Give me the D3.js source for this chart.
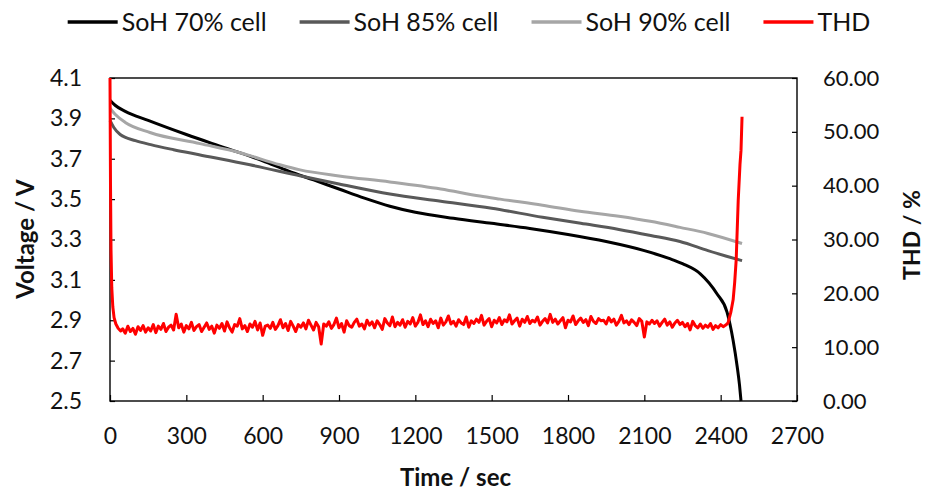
<!DOCTYPE html>
<html>
<head>
<meta charset="utf-8">
<script src="https://cdn.jsdelivr.net/npm/d3@7"></script>
<style>
  body { margin: 0; background: #fff; }
  text { font-family: Lato, "Open Sans", sans-serif; fill: #111; }
</style>
</head>
<body>
<svg id="chart" width="927" height="490"></svg>
<script>
// tick labels
let timeTicks = [0, 300, 600, 900, 1200, 1500, 1800, 2100, 2400, 2700]
let voltTicks = [2.5, 2.7, 2.9, 3.1, 3.3, 3.5, 3.7, 3.9, 4.1]
let thdTicks = [0, 10, 20, 30, 40, 50, 60]

// discharge curves, [time s, voltage V]
let soh70 = [[0,3.99],[20,3.965],[60,3.935],[150,3.89],[300,3.82],[450,3.755],[600,3.69],[700,3.64],
  [800,3.595],[900,3.55],[1000,3.505],[1100,3.465],[1200,3.435],[1350,3.405],[1500,3.38],[1650,3.355],
  [1800,3.325],[1950,3.29],[2100,3.245],[2200,3.205],[2250,3.18],[2320,3.13],[2386,3.03],[2425,2.94],
  [2449,2.80],[2465,2.67],[2474,2.58],[2480,2.50]]
let soh85 = [[0,3.89],[15,3.855],[40,3.82],[100,3.79],[160,3.77],[250,3.745],[350,3.72],[550,3.67],
  [750,3.615],[900,3.575],[1100,3.525],[1300,3.49],[1500,3.455],[1700,3.41],[1850,3.38],[2000,3.35],
  [2125,3.32],[2240,3.29],[2350,3.245],[2484,3.195]]
let soh90 = [[0,3.95],[20,3.92],[60,3.88],[157,3.83],[354,3.775],[511,3.73],[668,3.67],[747,3.645],
  [900,3.615],[1100,3.585],[1300,3.55],[1454,3.515],[1533,3.50],[1700,3.47],[1847,3.44],[2000,3.415],
  [2123,3.39],[2240,3.36],[2350,3.33],[2484,3.28]]

// THD (%): start drop, noisy plateau sampled every 10 s from 50 s, end rise
let thdHead = [[0,60],[2,40],[4,28],[7,21],[11,17.5],[16,15.5],[23,14.3],[32,13.5],[42,13.0]]
let thdStart = 50
let thdStep = 10
let thdNoise = [
  13.4,12.6,13.9,12.9,13.5,12.4,13.8,13.1,14.0,12.8,
  13.6,13.0,14.2,12.7,13.9,13.3,14.4,12.9,13.7,14.1,
  13.2,16.1,13.6,14.3,12.8,14.0,13.4,14.6,13.1,13.8,
  14.2,12.9,13.7,14.5,13.3,13.9,12.6,14.1,13.5,14.4,
  13.0,14.7,13.6,12.8,14.2,13.9,15.3,13.4,14.0,12.9,
  14.3,13.7,14.8,13.2,14.5,12.2,13.9,14.1,13.5,14.6,
  13.3,14.0,15.1,13.6,14.4,13.1,14.8,13.9,12.9,14.2,
  13.7,14.5,13.4,15.0,14.1,13.2,14.6,13.8,10.6,14.3,
  13.9,14.7,13.5,14.2,15.4,13.6,14.4,12.8,14.9,14.0,
  13.7,14.6,15.2,13.9,14.3,13.4,15.0,14.1,14.7,13.6,
  14.9,14.2,13.3,15.3,14.5,14.0,15.6,13.8,14.6,14.1,
  15.1,13.7,14.8,14.3,15.5,13.9,14.6,16.0,14.2,14.9,
  13.8,15.2,14.4,14.9,13.6,15.4,14.1,14.7,15.8,14.3,
  14.8,13.9,15.1,14.5,14.2,15.6,13.7,14.9,14.4,15.2,
  14.6,15.9,14.1,14.8,15.3,13.8,15.0,14.5,15.5,14.2,
  15.1,14.7,16.0,14.3,14.9,15.4,13.9,15.2,14.6,15.7,
  14.4,15.0,14.7,15.6,14.1,14.8,15.3,14.5,16.1,14.6,
  15.2,14.3,14.9,15.5,13.6,15.0,14.7,15.8,14.2,14.9,
  15.4,14.6,15.1,14.0,15.7,14.8,14.4,15.3,14.9,15.0,
  14.3,15.5,14.7,15.2,14.1,14.8,15.9,14.5,14.9,14.2,
  15.1,14.6,14.0,15.3,14.8,11.9,14.7,14.3,15.0,14.4,
  14.9,13.9,14.6,15.2,14.1,14.7,13.7,14.5,15.0,14.2,
  14.6,13.8,14.4,13.2,14.8,14.0,13.6,14.3,13.5,14.1,
  13.7,14.4,13.3,14.0,13.6,14.2,13.8,14.1]
let thdTail = [[2429,14.5],[2440,16.5],[2449,18.8],[2455,22.0],[2461,26.2],[2469,37.3],[2476,44.0],[2480,46.6],[2484,52.8]]

let seriesNames = ['SoH 70% cell', 'SoH 85% cell', 'SoH 90% cell', 'THD']
let seriesColors = ['#000000', '#595959', '#a6a6a6', '#ff0000']

let svg = d3.select('#chart')
let plotLeft = 110, plotRight = 797, plotTop = 78, plotBottom = 401

let x = d3.scaleLinear().domain([0, 2700]).range([plotLeft, plotRight])
let yV = d3.scaleLinear().domain([2.5, 4.1]).range([plotBottom, plotTop])
let yT = d3.scaleLinear().domain([0, 60]).range([plotBottom, plotTop])

// axes, ticks pointing inwards
let gx = svg.append('g').attr('transform', `translate(0,${plotBottom})`)
  .call(d3.axisBottom(x).tickValues(timeTicks).tickSize(-6).tickPadding(27).tickFormat(d3.format('d')))
let gl = svg.append('g').attr('transform', `translate(${plotLeft},0)`)
  .call(d3.axisLeft(yV).tickValues(voltTicks).tickSize(-5).tickPadding(28).tickFormat(d3.format('.1f')))
let gr = svg.append('g').attr('transform', `translate(${plotRight},0)`)
  .call(d3.axisRight(yT).tickValues(thdTicks).tickSize(-5).tickPadding(26).tickFormat(d3.format('.2f')))

svg.selectAll('.domain').remove()
svg.selectAll('.tick line').attr('stroke', '#000').attr('stroke-width', 1.2)
svg.selectAll('.tick text').style('font-size', '23px').attr('fill', '#111')
gr.selectAll('.tick text').style('font-size', '22px')

// frame
svg.append('rect')
  .attr('x', plotLeft).attr('y', plotTop)
  .attr('width', plotRight - plotLeft).attr('height', plotBottom - plotTop)
  .attr('fill', 'none').attr('stroke', '#000').attr('stroke-width', 1.4)

let vLine = d3.line()
  .x(d => x(d[0]))
  .y(d => yV(d[1]))
  .curve(d3.curveMonotoneX)

let cells = [soh70, soh85, soh90]
cells.forEach((data, i) => {
  svg.append('path')
    .datum(data)
    .attr('d', vLine)
    .attr('fill', 'none')
    .attr('stroke', seriesColors[i])
    .attr('stroke-width', 3)
})

// THD on the secondary axis
let thdData = thdHead
  .concat(thdNoise.map((v, i) => [thdStart + i * thdStep, v]))
  .concat(thdTail)

let tLine = d3.line()
  .x(d => x(d[0]))
  .y(d => yT(d[1]))

svg.append('path')
  .datum(thdData)
  .attr('d', tLine)
  .attr('fill', 'none')
  .attr('stroke', seriesColors[3])
  .attr('stroke-width', 3)
  .attr('stroke-linejoin', 'round')

// axis titles
svg.append('text')
  .attr('transform', `translate(34,239) rotate(-90)`)
  .attr('text-anchor', 'middle')
  .style('font-size', '24px').style('font-weight', 'bold')
  .text('Voltage / V')
svg.append('text')
  .attr('transform', `translate(920,235) rotate(-90)`)
  .attr('text-anchor', 'middle')
  .style('font-size', '23px').style('font-weight', 'bold')
  .text('THD / %')
svg.append('text')
  .attr('x', (plotLeft + plotRight) / 2 + 2).attr('y', 486)
  .attr('text-anchor', 'middle')
  .style('font-size', '24px').style('font-weight', 'bold')
  .text('Time / sec')

// legend
let legend = svg.append('g')
let lx = 0
seriesNames.forEach((name, i) => {
  let item = legend.append('g').attr('transform', `translate(${lx},0)`)
  item.append('line')
    .attr('x1', 0).attr('x2', 50).attr('y1', 0).attr('y2', 0)
    .attr('stroke', seriesColors[i]).attr('stroke-width', 3.5)
  let t = item.append('text')
    .attr('x', 54).attr('y', 0).attr('dy', '0.35em')
    .style('font-size', '25px')
    .text(name)
  lx += 54 + t.node().getComputedTextLength() + 33
})
let legendWidth = lx - 33
legend.attr('transform', `translate(${469 - legendWidth / 2},22)`)
</script>
</body>
</html>
